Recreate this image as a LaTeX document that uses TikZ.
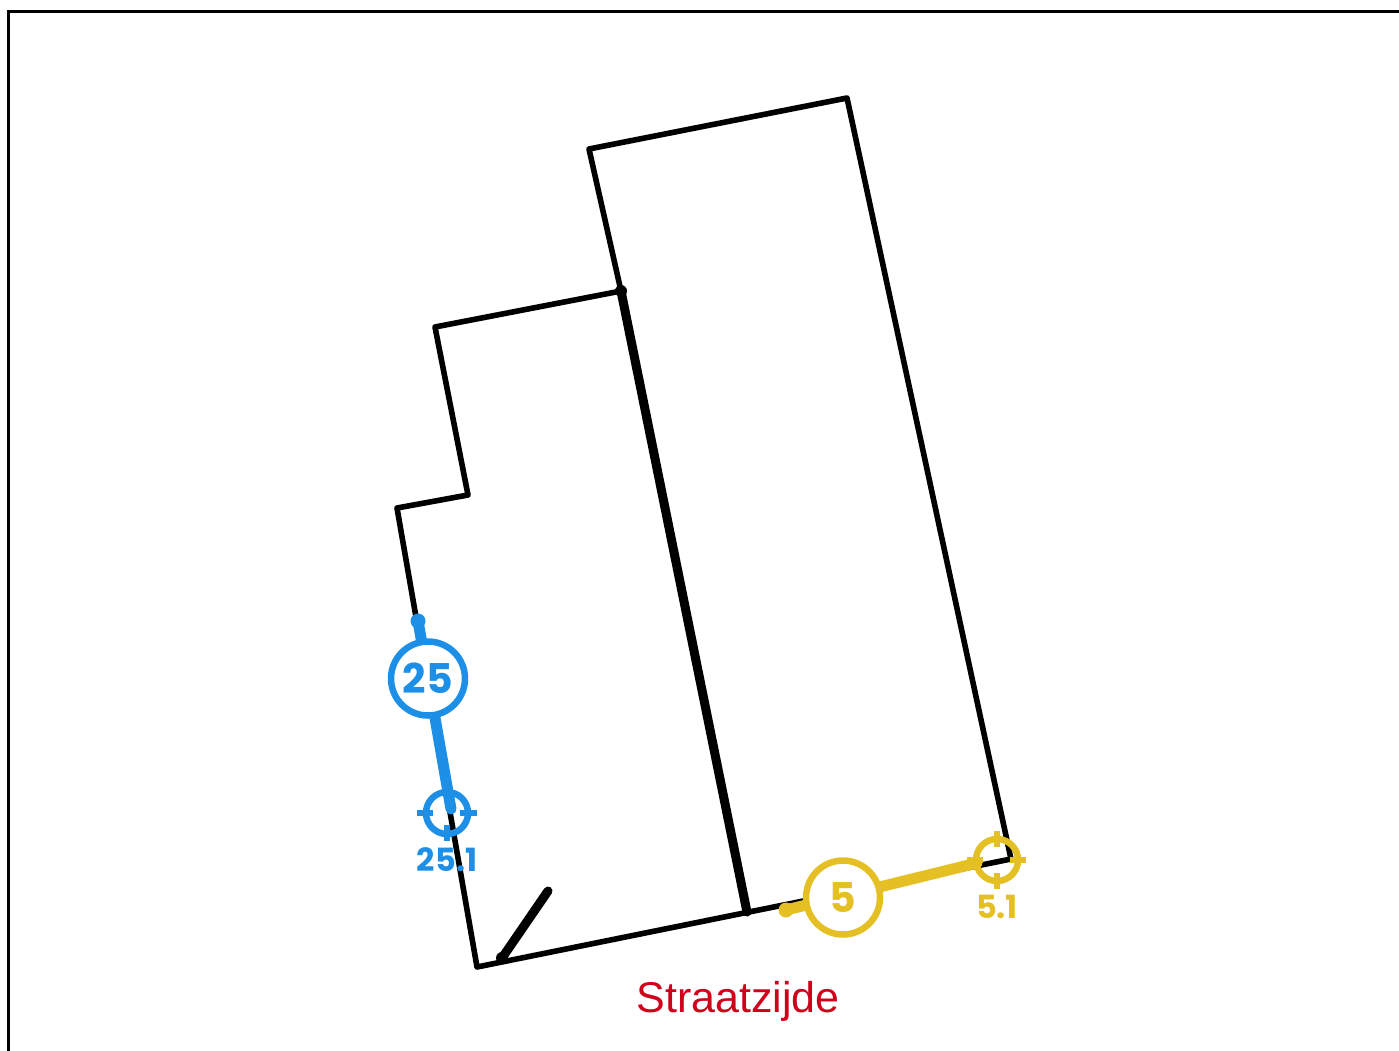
\documentclass[tikz,border=0pt]{standalone}
\usepackage{fontspec}
\setmainfont{Liberation Sans}
\newfontfamily\badgefont{Poppins}[UprightFont=* Bold]
\definecolor{bluec}{HTML}{1E8FE6}
\definecolor{yellowc}{HTML}{E5C024}
\definecolor{redc}{HTML}{D0021B}
\tikzset{
  wall/.style={draw=black,line width=5.6pt,line join=round,line cap=round},
  heavy/.style={draw=black,line width=9pt,line cap=round},
  badge/.style={circle,draw=#1,fill=white,line width=6.5pt,text=#1,minimum size=74pt,inner sep=0pt,font=\badgefont\fontsize{41}{41}\selectfont},
  feed/.style={draw=#1,line width=11pt,line cap=round},
  ring/.style={circle,draw=#1,line width=6.5pt,minimum size=42pt,inner sep=0pt},
  tick/.style={draw=#1,line width=6.5pt},
  dot/.style={circle,fill=#1,inner sep=0pt,minimum size=15pt},
  tag/.style={text=#1,font=\badgefont\fontsize{32}{32}\selectfont,inner sep=0pt}
}
\begin{document}
\begin{tikzpicture}[x=1pt,y=-1pt]
\useasboundingbox (0,0) rectangle (1399,1050);
\coordinate (fTL) at (8.5,1060);
\coordinate (fC) at (8.5,11);
\coordinate (fTR) at (1410,11);
\draw[line width=3pt,line join=miter] (fTL) -- (fC) -- (fTR);
\coordinate (a) at (589,149);
\coordinate (b) at (847,98);
\coordinate (c) at (1011,859);
\coordinate (d) at (477,967);
\coordinate (e) at (397,508);
\coordinate (f) at (468,495);
\coordinate (g) at (435,327);
\coordinate (h) at (621,291);
\coordinate (i) at (747,912);
\coordinate (j) at (502,958);
\coordinate (k) at (548,891);
\draw[wall] (h) -- (a) -- (b) -- (c) -- (d) -- (e) -- (f) -- (g) -- (h);
\draw[heavy] (h) -- (i);
\draw[heavy] (j) -- (k);
\node[circle,fill=black,inner sep=0pt,minimum size=12pt] (hd) at (h) {};
\node[circle,fill=black,inner sep=0pt,minimum size=12pt] (jd) at (j) {};
% blue
\node[tag=bluec] (bl) at (447,859.5) {25.1};
\node[dot=bluec] (bs) at (418,621) {};
\coordinate (be) at (451,809);
\draw[feed=bluec] (bs.center) -- (be);
\node[ring=bluec] (br) at (447,813) {};
\draw[tick=bluec] (417,813) -- (433,813);
\draw[tick=bluec] (460,813) -- (477,813);
\draw[tick=bluec] (447,825) -- (447,841);
\node[badge=bluec] (bb) at (428,678.5) {25};
% yellow
\node[tag=yellowc] (yl) at (997,906.5) {5.1};
\node[dot=yellowc] (ys) at (786,910) {};
\coordinate (ye) at (977,863);
\draw[feed=yellowc] (ys.center) -- (ye);
\node[ring=yellowc] (yr) at (997,860) {};
\draw[tick=yellowc] (967,860) -- (983,860);
\draw[tick=yellowc] (1010,860) -- (1026,860);
\draw[tick=yellowc] (997,831) -- (997,847);
\draw[tick=yellowc] (997,873) -- (997,889);
\node[badge=yellowc] (yb) at (843,897.5) {5};
\node[text=redc,inner sep=0pt,font=\fontsize{43}{43}\selectfont] (st) at (738,1001) {Straatzijde};
\end{tikzpicture}
\end{document}
